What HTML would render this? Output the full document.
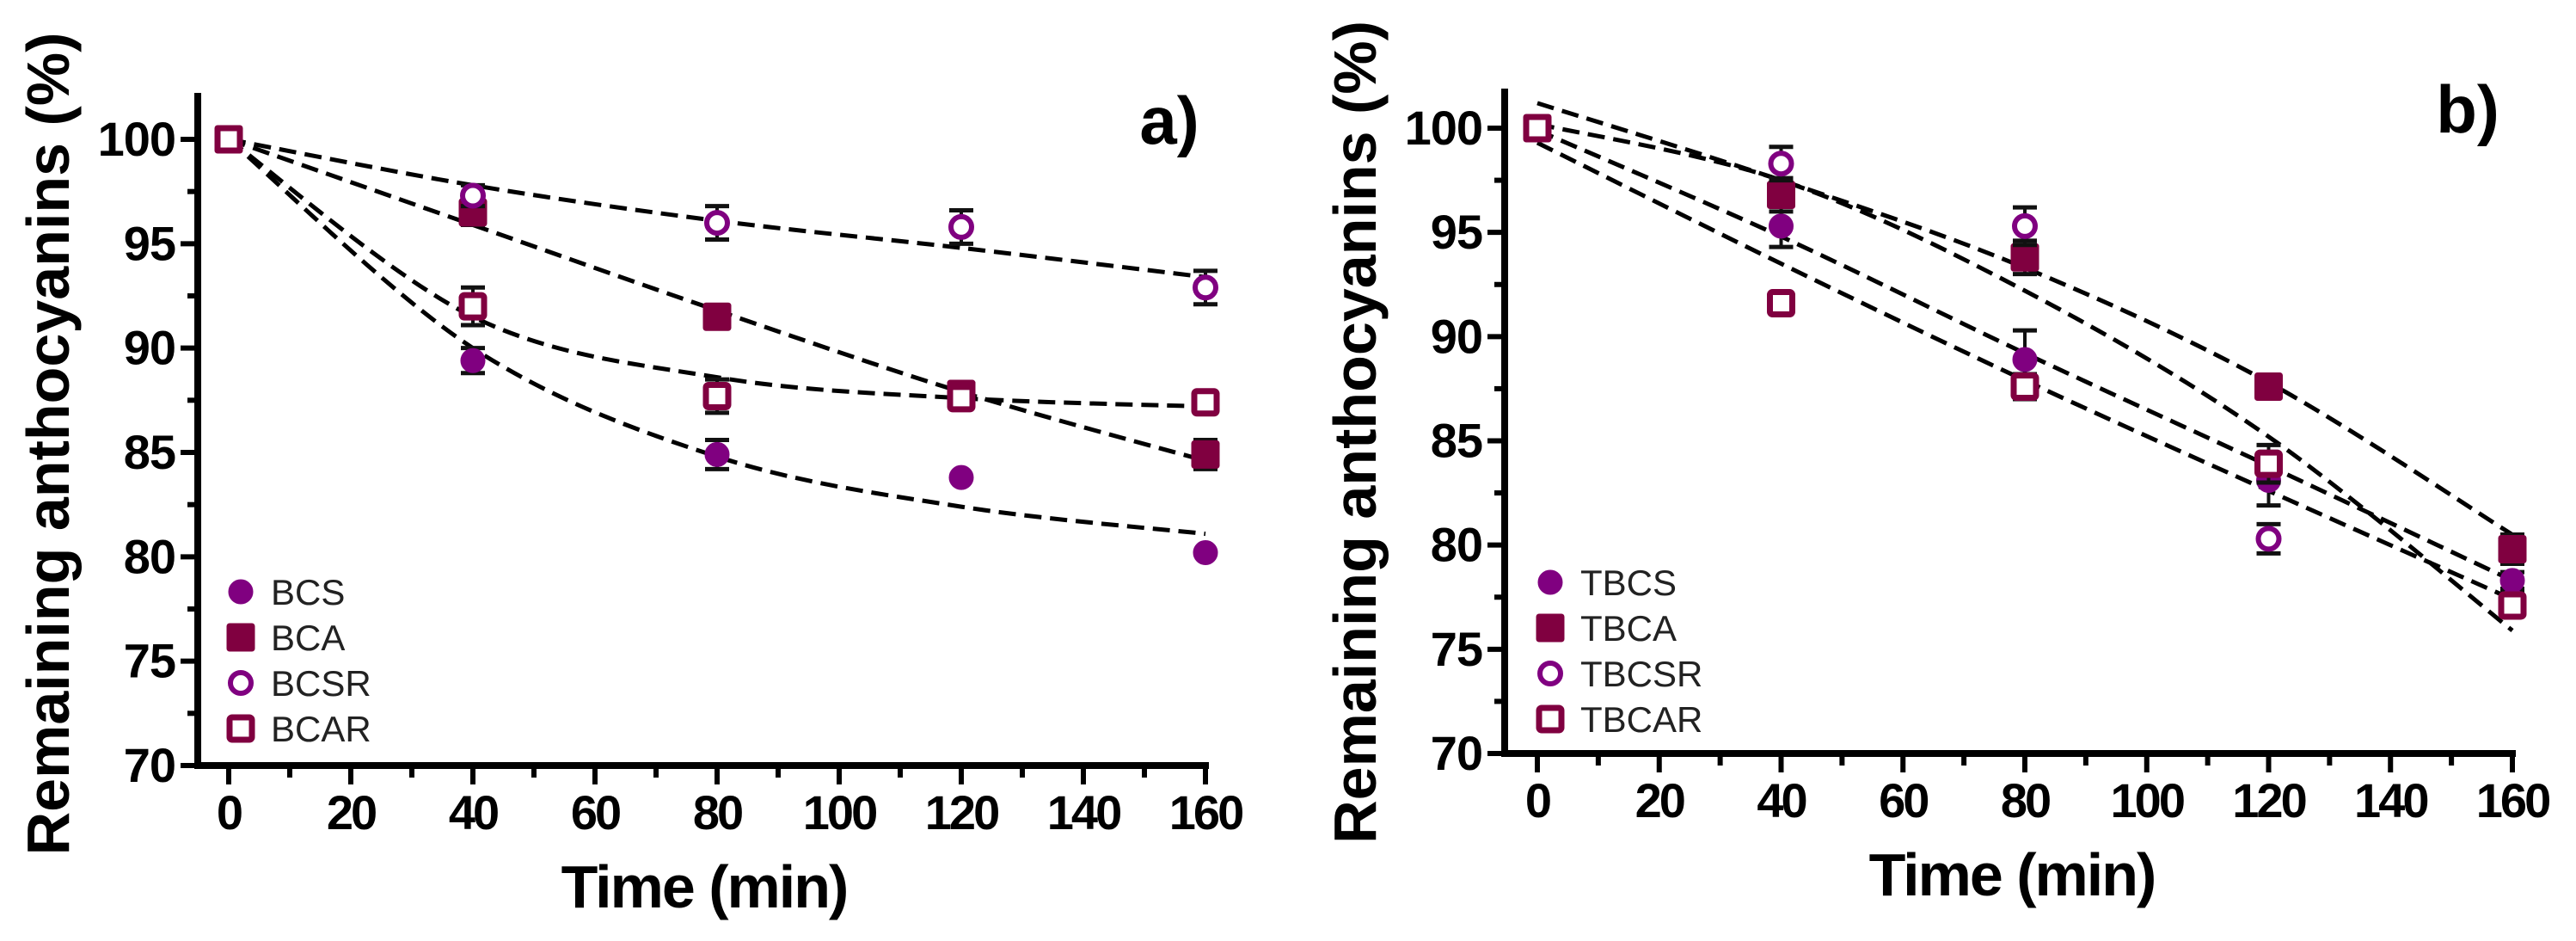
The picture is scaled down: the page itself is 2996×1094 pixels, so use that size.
<!DOCTYPE html>
<html><head><meta charset="utf-8">
<style>
html,body{margin:0;padding:0;background:#fff;}
svg{display:block;}
text{font-family:"Liberation Sans",Arial,sans-serif;}
</style></head>
<body>
<svg id="chart" width="2996" height="1094" viewBox="0 0 2996 1094" xmlns="http://www.w3.org/2000/svg"></svg>
<script>
// ---------- data ----------
const times = [0, 40, 80, 120, 160];
const xTicks = [0, 20, 40, 60, 80, 100, 120, 140, 160];
const yTicks = [70, 75, 80, 85, 90, 95, 100];

// panel a
const aNames = ["BCS", "BCA", "BCSR", "BCAR"];
const aBCS  = [100, 89.4, 84.9, 83.8, 80.2];
const aBCA  = [100, 96.5, 91.5, 87.8, 84.9];
const aBCSR = [100, 97.3, 96.0, 95.8, 92.9];
const aBCAR = [100, 92.0, 87.7, 87.6, 87.4];
const aErrBCS  = [0.4, 0.6, 0.7, 0, 0];
const aErrBCA  = [0.4, 0.6, 0, 0.3, 0.7];
const aErrBCSR = [0.3, 0.5, 0.8, 0.8, 0.8];
const aErrBCAR = [0.3, 0.9, 0.8, 0.3, 0.5];
const aFitBCS  = [100, 90.0, 84.8, 82.4, 81.1];
const aFitBCA  = [100, 95.9, 91.8, 87.9, 84.6];
const aFitBCSR = [100, 97.8, 96.1, 94.8, 93.4];
const aFitBCAR = [100, 91.5, 88.6, 87.6, 87.2];

// panel b
const bNames = ["TBCS", "TBCA", "TBCSR", "TBCAR"];
const bTBCS  = [100, 95.3, 88.9, 83.1, 78.3];
const bTBCA  = [100, 96.8, 93.8, 87.6, 79.8];
const bTBCSR = [100, 98.3, 95.3, 80.3, 77.3];
const bTBCAR = [100, 91.6, 87.6, 83.9, 77.1];
const bErrTBCS  = [0.4, 1.0, 1.4, 1.2, 0.4];
const bErrTBCA  = [0.5, 0.8, 0.8, 0.2, 0.7];
const bErrTBCSR = [0.3, 0.8, 0.9, 0.7, 0.4];
const bErrTBCAR = [0.3, 0.2, 0.6, 0.9, 0.4];
const bFitTBCS  = [99.9, 94.8, 89.2, 83.8, 78.3];
const bFitTBCA  = [101.2, 97.5, 93.3, 87.8, 80.5];
const bFitTBCSR = [100.2, 97.5, 92.2, 85.2, 75.9];
const bFitTBCAR = [99.3, 93.5, 87.9, 82.6, 77.4];

const PURPLE = "#800080", MAROON = "#800040";
const NS = "http://www.w3.org/2000/svg";
const svg = document.getElementById("chart");
function el(tag, attrs, parent) {
  const e = document.createElementNS(NS, tag);
  for (const k in attrs) e.setAttribute(k, attrs[k]);
  (parent || svg).appendChild(e);
  return e;
}

function panel(cfg) {
  const g = el("g", {});
  
  
  const xS = v => cfg.x0 + (v - 0) / 160 * (cfg.x160 - cfg.x0);
  const yS = v => cfg.y70 - (v - 70) / 30 * (cfg.y70 - cfg.y100);
  const ax = el("g", {}, g);
  
  
  el("line", {x1: cfg.axX, y1: cfg.axTop, x2: cfg.axX, y2: cfg.y70 + 4, stroke: "#000", "stroke-width": 8}, ax);
  el("line", {x1: cfg.axX - 4, y1: cfg.y70, x2: cfg.x160 + 4, y2: cfg.y70, stroke: "#000", "stroke-width": 8}, ax);
  for (let v = 70; v <= 100; v += 2.5) {
    const major = v % 5 === 0;
    el("line", {x1: cfg.axX - (major ? 20 : 12), y1: yS(v), x2: cfg.axX, y2: yS(v), stroke: "#000", "stroke-width": 6}, ax);
  }
  for (let v = 0; v <= 160; v += 10) {
    const major = v % 20 === 0;
    el("line", {x1: xS(v), y1: cfg.y70, x2: xS(v), y2: cfg.y70 + (major ? 22 : 14), stroke: "#000", "stroke-width": 6}, ax);
  }
  yTicks.forEach(v => {
    const t = el("text", {x: cfg.axX - 26, y: yS(v) + 19, "text-anchor": "end", "font-size": 56, "font-weight": "bold", "letter-spacing": -1}, ax);
    
    
    t.textContent = v;
  });
  xTicks.forEach(v => {
    const t = el("text", {x: xS(v), y: cfg.y70 + 74, "text-anchor": "middle", "font-size": 56, "font-weight": "bold", "letter-spacing": -3}, ax);
    
    
    t.textContent = v;
  });
  const yt = el("text", {x: 0, y: 0, transform: `translate(${cfg.axX - 150},${(cfg.y70 + cfg.y100) / 2 - 10}) rotate(-90)`, "text-anchor": "middle", "font-size": 70, "font-weight": "bold"}, g);
  
  
  yt.textContent = "Remaining anthocyanins (%)";
  const xt = el("text", {x: (cfg.x0 + cfg.x160) / 2 - 15, y: cfg.y70 + 165, "text-anchor": "middle", "font-size": 70, "font-weight": "bold", "letter-spacing": -2}, g);
  
  
  xt.textContent = "Time (min)";
  const pl = el("text", {x: cfg.labelX, y: cfg.y100 + 5, "text-anchor": "middle", "font-size": 78, "font-weight": "bold"}, g);
  
  
  pl.textContent = cfg.label;

  cfg.fits.forEach((f, i) => {
    const pts = times.map((t, k) => [xS(t), yS(f[k])]);
    let d = `M${pts[0][0]},${pts[0][1]}`;
    for (let k = 0; k < pts.length - 1; k++) {
      const p0 = pts[Math.max(k - 1, 0)], p1 = pts[k], p2 = pts[k + 1], p3 = pts[Math.min(k + 2, pts.length - 1)];
      const c1 = [p1[0] + (p2[0] - p0[0]) / 6, p1[1] + (p2[1] - p0[1]) / 6];
      const c2 = [p2[0] - (p3[0] - p1[0]) / 6, p2[1] - (p3[1] - p1[1]) / 6];
      d += ` C${c1[0]},${c1[1]} ${c2[0]},${c2[1]} ${p2[0]},${p2[1]}`;
    }
    const p = el("path", {d, fill: "none", stroke: "#000", "stroke-width": 5, "stroke-dasharray": "20 10"}, g);
    
    
  });

  const styles = [
    {shape: "circle", fill: PURPLE, stroke: PURPLE},
    {shape: "square", fill: MAROON, stroke: MAROON},
    {shape: "circle", fill: "#fff", stroke: PURPLE},
    {shape: "square", fill: "#fff", stroke: MAROON}
  ];
  function marker(parent, st, cx, cy) {
    const open = st.fill === "#fff";
    if (st.shape === "circle") {
      return el("circle", {cx, cy, r: open ? 12 : 14, fill: st.fill, stroke: st.stroke, "stroke-width": open ? 6 : 1}, parent);
    }
    const s = open ? 26 : 32;
    return el("rect", {x: cx - s / 2, y: cy - s / 2, width: s, height: s, rx: 3, fill: st.fill, stroke: st.stroke, "stroke-width": open ? 7 : 1}, parent);
  }
  cfg.series.forEach((vals, i) => {
    const sg = el("g", {}, g);
    
    
    vals.forEach((v, k) => {
      const e = cfg.errs[i][k];
      if (e > 0) {
        const x = xS(times[k]);
        const eb = el("g", {}, sg);
        
        
        el("line", {x1: x, y1: yS(v + e), x2: x, y2: yS(v - e), stroke: "#111", "stroke-width": 4}, eb);
        el("line", {x1: x - 14, y1: yS(v + e), x2: x + 14, y2: yS(v + e), stroke: "#111", "stroke-width": 5}, eb);
        el("line", {x1: x - 14, y1: yS(v - e), x2: x + 14, y2: yS(v - e), stroke: "#111", "stroke-width": 5}, eb);
      }
      const m = marker(sg, styles[i], xS(times[k]), yS(v));
      
      
    });
  });

  const lg = el("g", {}, g);
  
  
  cfg.names.forEach((n, i) => {
    const y = cfg.legY + i * 53;
    const le = el("g", {}, lg);
    
    
    marker(le, styles[i], cfg.legX, y);
    const t = el("text", {x: cfg.legX + 35, y: y + 15, "font-size": 42, fill: "#222"}, le);
    t.textContent = n;
  });
}

panel({name: "panel-a", axX: 230, axTop: 108, x0: 266, x160: 1402, y100: 162, y70: 890,
  label: "a)", labelX: 1360, legX: 280, legY: 688, names: aNames,
  series: [aBCS, aBCA, aBCSR, aBCAR], errs: [aErrBCS, aErrBCA, aErrBCSR, aErrBCAR],
  fits: [aFitBCS, aFitBCA, aFitBCSR, aFitBCAR]});
panel({name: "panel-b", axX: 1750, axTop: 103, x0: 1788, x160: 2922, y100: 149, y70: 876,
  label: "b)", labelX: 2870, legX: 1803, legY: 677, names: bNames,
  series: [bTBCS, bTBCA, bTBCSR, bTBCAR], errs: [bErrTBCS, bErrTBCA, bErrTBCSR, bErrTBCAR],
  fits: [bFitTBCS, bFitTBCA, bFitTBCSR, bFitTBCAR]});
</script>
</body></html>
